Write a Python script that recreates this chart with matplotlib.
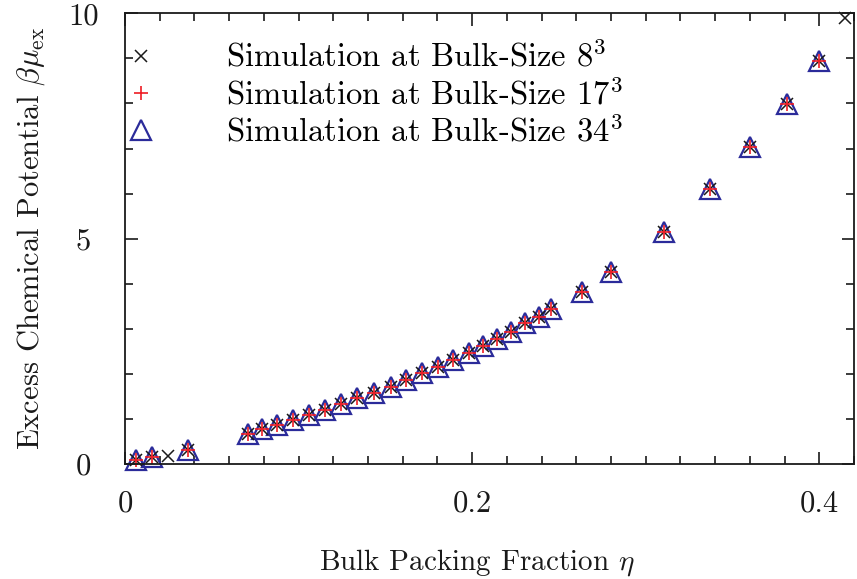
import numpy as np
import matplotlib
matplotlib.use('Agg')
import matplotlib.pyplot as plt
from matplotlib.ticker import MultipleLocator, FixedLocator, FixedFormatter

plt.rcParams['font.family'] = 'cmr10'
plt.rcParams['mathtext.fontset'] = 'cm'
plt.rcParams['axes.unicode_minus'] = False

# packing fraction / excess chemical potential per bulk size
eta_8 = [0.0063, 0.0157, 0.0249, 0.0364,
         0.0709, 0.0792, 0.0878, 0.0966, 0.1058, 0.1150, 0.1246, 0.1339,
         0.1434, 0.1530, 0.1620, 0.1712, 0.1802, 0.1892, 0.1979, 0.2065,
         0.2144, 0.2224, 0.2307, 0.2383, 0.2456,
         0.2634, 0.2802, 0.3106, 0.3372, 0.3602, 0.3814, 0.3999, 0.4151]
mu_8 = [0.10, 0.16, 0.18, 0.31,
        0.666, 0.770, 0.865, 0.976, 1.087, 1.198, 1.325, 1.458,
        1.582, 1.715, 1.864, 2.013, 2.146, 2.308, 2.470, 2.618,
        2.767, 2.936, 3.122, 3.268, 3.432,
        3.810, 4.260, 5.156, 6.097, 7.038, 7.988, 8.951, 9.889]

eta_17 = [0.0063, 0.0157, 0.0364,
          0.0709, 0.0792, 0.0878, 0.0966, 0.1058, 0.1150, 0.1246, 0.1339,
          0.1434, 0.1530, 0.1620, 0.1712, 0.1802, 0.1892, 0.1979, 0.2065,
          0.2144, 0.2224, 0.2307, 0.2383, 0.2456,
          0.2634, 0.2802, 0.3106, 0.3372, 0.3602, 0.3814, 0.3999]
mu_17 = [0.10, 0.16, 0.31,
         0.666, 0.770, 0.865, 0.976, 1.087, 1.198, 1.325, 1.458,
         1.582, 1.715, 1.864, 2.013, 2.146, 2.308, 2.470, 2.618,
         2.767, 2.936, 3.122, 3.268, 3.432,
         3.810, 4.260, 5.156, 6.097, 7.038, 7.988, 8.951]

eta_34 = list(eta_17)
mu_34 = list(mu_17)

fig = plt.figure(figsize=(8.57, 5.79), dpi=100)
ax = fig.add_axes([0.1459, 0.1986, 0.8506, 0.7784])

h34, = ax.plot(eta_34, mu_34, '^', ms=14, mfc='none', mec='#2b2b9a', mew=1.6,
               label=r'Simulation at Bulk-Size $34^3$', clip_on=False)
h8, = ax.plot(eta_8, mu_8, 'x', ms=8.5, color='#1a1a1a', mew=1.1,
              label=r'Simulation at Bulk-Size $8^3$', clip_on=False)
h17, = ax.plot(eta_17, mu_17, '+', ms=9.5, color='#ee1c24', mew=1.2,
               label=r'Simulation at Bulk-Size $17^3$', clip_on=False)

ax.set_xlim(0, 0.42)
ax.set_ylim(0, 10)

ax.xaxis.set_major_locator(FixedLocator([0, 0.2, 0.4]))
ax.xaxis.set_major_formatter(FixedFormatter(['0', '0.2', '0.4']))
ax.xaxis.set_minor_locator(MultipleLocator(0.02))
ax.yaxis.set_major_locator(FixedLocator([0, 5, 10]))
ax.yaxis.set_major_formatter(FixedFormatter(['0', '5', '10']))
ax.yaxis.set_minor_locator(MultipleLocator(1))

ax.tick_params(which='both', direction='in', top=True, right=True,
               labelsize=22, width=1.2, colors='#1a1a1a')
ax.tick_params(which='major', length=9)
ax.tick_params(which='minor', length=6)
ax.tick_params(axis='x', which='major', pad=19)
ax.tick_params(axis='y', which='major', pad=30)

for sp in ax.spines.values():
    sp.set_linewidth(1.3)
    sp.set_color('#1a1a1a')

ax.set_xlabel(r'Bulk Packing Fraction $\eta$', fontsize=21, labelpad=21,
              color='#1a1a1a')
ax.xaxis.label.set_x(0.482)
ax.set_ylabel(r'Excess Chemical Potential $\beta\mu_{\rm ex}$', fontsize=22,
              labelpad=15, color='#1a1a1a')

ax.legend(handles=[h8, h17, h34], loc='upper left', frameon=False,
          fontsize=23.5, handlelength=0.6, handletextpad=2.3,
          labelspacing=0.15, borderpad=0, borderaxespad=0,
          bbox_to_anchor=(0.008, 0.94))

# center the y tick labels under their own column
fig.canvas.draw()
for lab in ax.get_yticklabels():
    lab.set_horizontalalignment('center')

fig.savefig('out.png', dpi=100)
